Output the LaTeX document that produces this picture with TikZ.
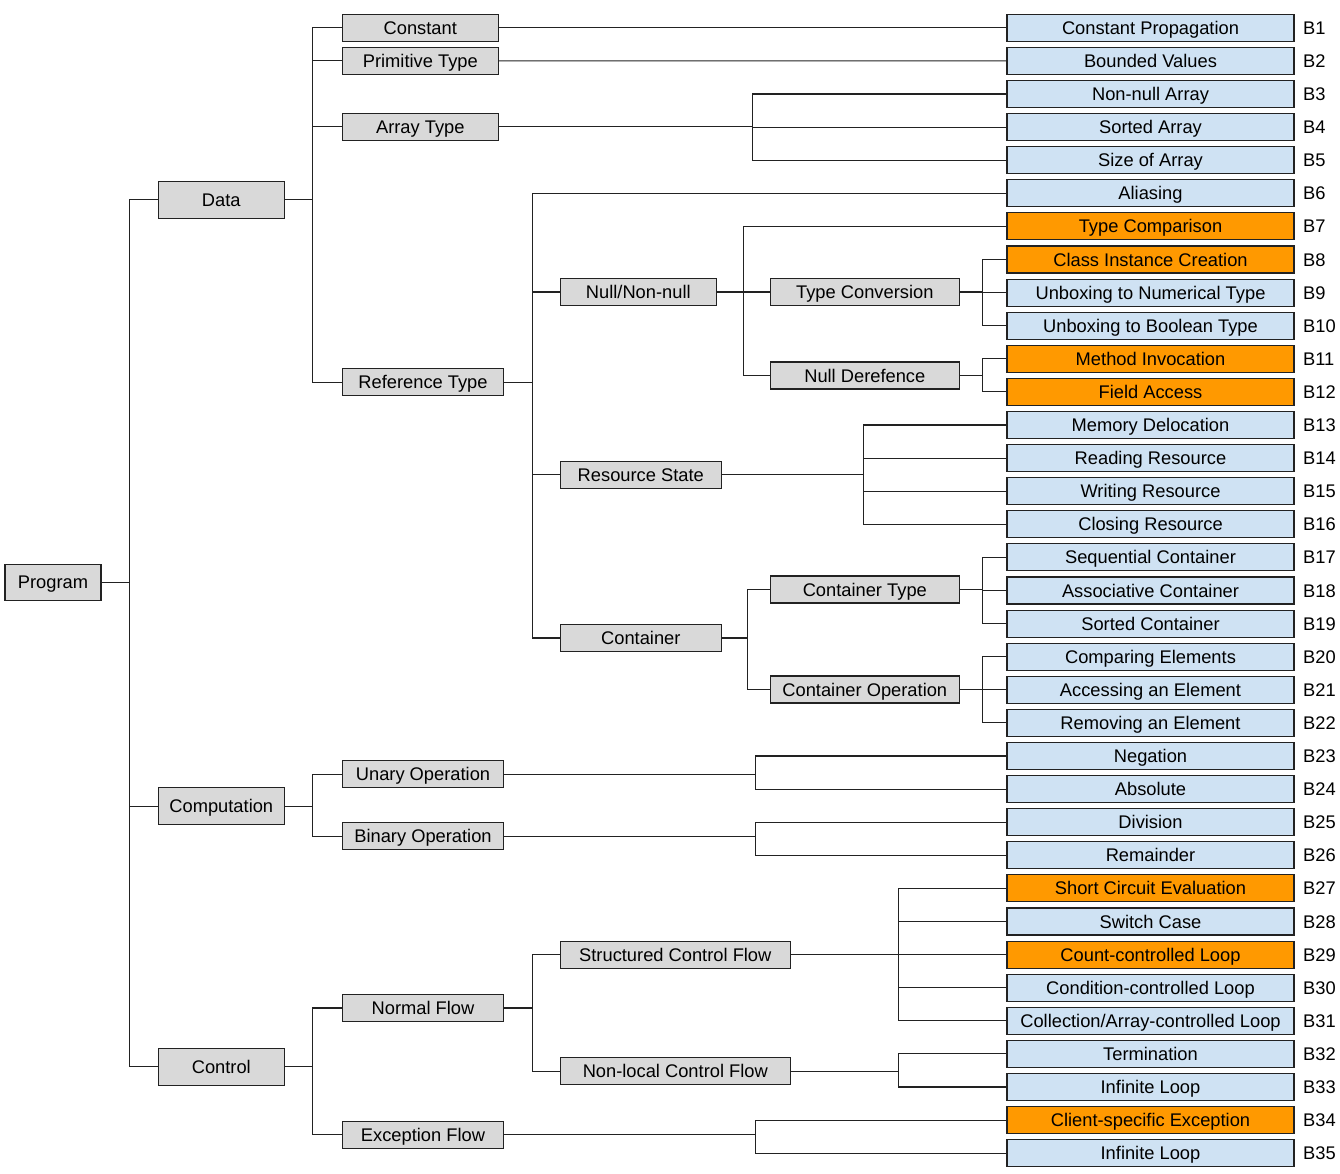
\documentclass[tikz,border=0pt]{standalone}
\usepackage{fontspec}
\setmainfont{Liberation Sans}
\definecolor{innergray}{HTML}{D9D9D9}
\definecolor{leafblue}{HTML}{CFE2F3}
\definecolor{hotorange}{HTML}{FF9900}
\definecolor{boxline}{HTML}{222222}
\begin{document}
\begin{tikzpicture}[
    x=1pt, y=-1pt,  % on travaille en pixels
    every node/.style={font=\fontsize{18.3}{21}\selectfont, text height=13pt, text depth=0pt, inner sep=0pt},
    box/.style={draw=boxline, line width=1.1pt, minimum height=27pt},
    inner/.style={box, fill=innergray},
    leaf/.style={box, minimum width=287pt},
    tag/.style={anchor=west},
    link/.style={draw=boxline, line width=1.1pt}
]
\useasboundingbox (0,0) rectangle (1340,1173);
% Racine
\node[inner, minimum width=96pt, minimum height=36pt] (program) at (53,582.3) {Program};
% Niveau 1
\node[inner, minimum width=126pt, minimum height=37pt] (data) at (221.3,199.8) {Data};
\node[inner, minimum width=126pt, minimum height=37pt] (computation) at (221.3,806.3) {Computation};
\node[inner, minimum width=126pt, minimum height=37pt] (control) at (221.3,1066.8) {Control};
% Niveau 2
\node[inner, minimum width=156pt] (constant) at (420.3,27.8) {Constant};
\node[inner, minimum width=156pt] (primitive) at (420.3,60.8) {Primitive Type};
\node[inner, minimum width=156pt] (arraytype) at (420.3,126.8) {Array Type};
\node[inner, minimum width=161pt] (reftype) at (423,382.3) {Reference Type};
\node[inner, minimum width=161pt] (unary) at (423,774.3) {Unary Operation};
\node[inner, minimum width=161pt] (binary) at (423,836.3) {Binary Operation};
\node[inner, minimum width=161pt] (normal) at (423,1008) {Normal Flow};
\node[inner, minimum width=161pt] (exception) at (423,1134.7) {Exception Flow};
% Niveau 3
\node[inner, minimum width=156pt] (nullnon) at (638.3,292) {Null/Non-null};
\node[inner, minimum width=161pt] (resstate) at (640.8,474.6) {Resource State};
\node[inner, minimum width=161pt] (container) at (640.8,638) {Container};
\node[inner, minimum width=230pt] (structured) at (675.3,954.7) {Structured Control Flow};
\node[inner, minimum width=230pt] (nonlocal) at (675.3,1071.3) {Non-local Control Flow};
% Niveau 4
\node[inner, minimum width=189pt] (typeconv) at (864.8,292) {Type Conversion};
\node[inner, minimum width=189pt] (nullderef) at (864.8,375.5) {Null Derefence};
\node[inner, minimum width=189pt] (contype) at (864.8,589.5) {Container Type};
\node[inner, minimum width=189pt] (conop) at (864.8,689.5) {Container Operation};
% Feuilles
\foreach \txt/\col [count=\i] in {
    Constant Propagation/leafblue, Bounded Values/leafblue, Non-null Array/leafblue,
    Sorted Array/leafblue, Size of Array/leafblue, Aliasing/leafblue,
    Type Comparison/hotorange, Class Instance Creation/hotorange,
    Unboxing to Numerical Type/leafblue, Unboxing to Boolean Type/leafblue,
    Method Invocation/hotorange, Field Access/hotorange,
    Memory Delocation/leafblue, Reading Resource/leafblue, Writing Resource/leafblue,
    Closing Resource/leafblue, Sequential Container/leafblue,
    Associative Container/leafblue, Sorted Container/leafblue,
    Comparing Elements/leafblue, Accessing an Element/leafblue,
    Removing an Element/leafblue, Negation/leafblue, Absolute/leafblue,
    Division/leafblue, Remainder/leafblue, Short Circuit Evaluation/hotorange,
    Switch Case/leafblue, Count-controlled Loop/hotorange,
    Condition-controlled Loop/leafblue, {Collection/Array-controlled Loop}/leafblue,
    Termination/leafblue, Infinite Loop/leafblue,
    Client-specific Exception/hotorange, Infinite Loop/leafblue}{
  \node[leaf, fill=\col] (b\i) at (1150.5,{27.8+33.1*(\i-1)}) {\txt};
  \node[tag] (t\i) at (1303,{27.8+33.1*(\i-1)}) {B\i};
}
% Branches
\foreach \c in {data,computation,control} \draw[link] (program.east) -- ++(28,0) |- (\c.west);
\foreach \c in {constant,primitive,arraytype,reftype} \draw[link] (data.east) -- ++(28,0) |- (\c.west);
\draw[link] (constant.east) -- (b1.west);
\draw[link] (primitive.east) -- (b2.west);
\foreach \c in {b3,b4,b5} \draw[link] (arraytype.east) -- ++(254,0) |- (\c.west);
\foreach \c in {b6,nullnon,resstate,container} \draw[link] (reftype.east) -- ++(28,0) |- (\c.west);
\foreach \c in {b7,typeconv,nullderef} \draw[link] (nullnon.east) -- ++(27,0) |- (\c.west);
\foreach \c in {b8,b9,b10} \draw[link] (typeconv.east) -- ++(23,0) |- (\c.west);
\foreach \c in {b11,b12} \draw[link] (nullderef.east) -- ++(23,0) |- (\c.west);
\foreach \c in {b13,b14,b15,b16} \draw[link] (resstate.east) -- ++(142,0) |- (\c.west);
\foreach \c in {contype,conop} \draw[link] (container.east) -- ++(26,0) |- (\c.west);
\foreach \c in {b17,b18,b19} \draw[link] (contype.east) -- ++(23,0) |- (\c.west);
\foreach \c in {b20,b21,b22} \draw[link] (conop.east) -- ++(23,0) |- (\c.west);
\foreach \c in {unary,binary} \draw[link] (computation.east) -- ++(28,0) |- (\c.west);
\foreach \c in {b23,b24} \draw[link] (unary.east) -- ++(251,0) |- (\c.west);
\foreach \c in {b25,b26} \draw[link] (binary.east) -- ++(251,0) |- (\c.west);
\foreach \c in {normal,exception} \draw[link] (control.east) -- ++(28,0) |- (\c.west);
\foreach \c in {structured,nonlocal} \draw[link] (normal.east) -- ++(28,0) |- (\c.west);
\foreach \c in {b27,b28,b29,b30,b31} \draw[link] (structured.east) -- ++(108,0) |- (\c.west);
\foreach \c in {b32,b33} \draw[link] (nonlocal.east) -- ++(108,0) |- (\c.west);
\foreach \c in {b34,b35} \draw[link] (exception.east) -- ++(251,0) |- (\c.west);
\end{tikzpicture}
\end{document}
